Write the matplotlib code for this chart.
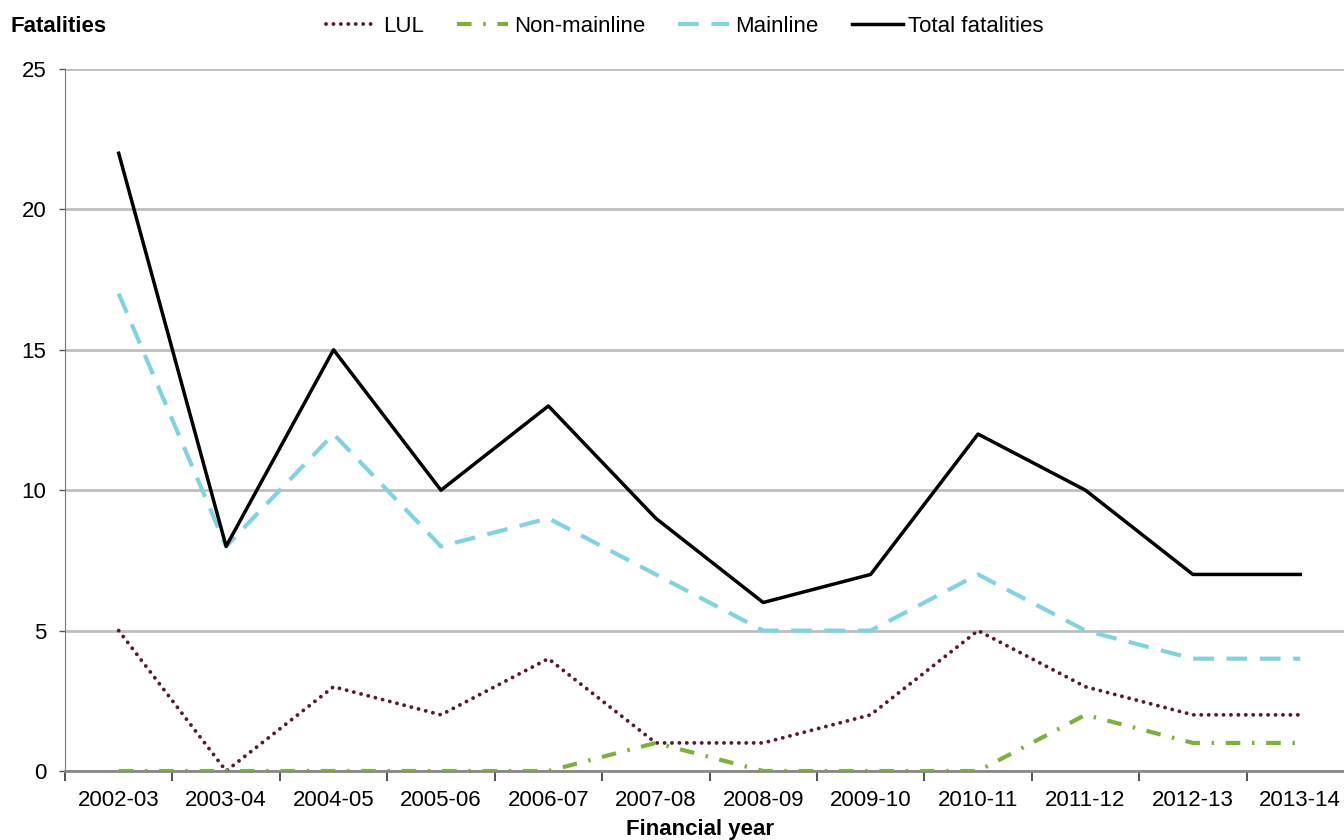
import matplotlib
matplotlib.use("Agg")
import matplotlib.pyplot as plt
import numpy as np

years = ["2002-03", "2003-04", "2004-05", "2005-06", "2006-07", "2007-08",
         "2008-09", "2009-10", "2010-11", "2011-12", "2012-13", "2013-14"]
lul = [5, 0, 3, 2, 4, 1, 1, 2, 5, 3, 2, 2]
non_mainline = [0, 0, 0, 0, 0, 1, 0, 0, 0, 2, 1, 1]
mainline = [17, 8, 12, 8, 9, 7, 5, 5, 7, 5, 4, 4]
total = [22, 8, 15, 10, 13, 9, 6, 7, 12, 10, 7, 7]

plt.rcParams['font.family'] = ['Liberation Sans', 'DejaVu Sans']

fig = plt.figure(figsize=(13.44, 8.4), dpi=100)
ax = fig.add_axes([65/1344, 1 - 771/840, (1354 - 65)/1344, (771 - 69)/840])

x = np.arange(len(years))
ax.plot(x, lul, color='#561c33', lw=2.8, linestyle=(0, (0.01, 1.9)), dash_capstyle='round',
        label='LUL', zorder=3)
ax.plot(x, non_mainline, color='#7db23a', lw=3, linestyle=(0, (3.5, 2.8, 0.6, 2.8)),
        label='Non-mainline', zorder=3)
ax.plot(x, mainline, color='#80d4df', lw=3, linestyle=(0, (5, 3)),
        label='Mainline', zorder=3)
ax.plot(x, total, color='black', lw=2.5, label='Total fatalities', zorder=4)

ax.set_xlim(-0.5, len(years) - 0.5)
ax.set_ylim(0, 25)
ax.set_yticks([0, 5, 10, 15, 20, 25])
ax.set_xticks(x)
ax.set_xticklabels(years)
ax.set_xticks(np.arange(-0.5, len(years) + 0.5, 1), minor=True)
ax.tick_params(axis='x', which='major', length=0, pad=14, labelsize=16)
ax.tick_params(axis='x', which='minor', length=7, width=1.2, color='#333333', direction='out')
ax.tick_params(axis='y', length=4.5, width=1, color='#555555', labelsize=16, pad=9)

ax.grid(axis='y', color='#bfbfbf', lw=2)
ax.set_axisbelow(True)
for s in ['top', 'right']:
    ax.spines[s].set_visible(False)
ax.spines['left'].set_color('#777777')
ax.spines['bottom'].set_color('#888888')
ax.spines['bottom'].set_linewidth(2)

fig.text(11/1344, 1 - 26/840, 'Fatalities', fontsize=16, fontweight='bold', va='center', ha='left')
fig.text(700/1344, 1 - 829/840, 'Financial year', fontsize=16, fontweight='bold', va='center', ha='center')

leg = fig.legend(loc='center', bbox_to_anchor=(685/1344, 1 - 26/840), ncol=4, frameon=False,
                 fontsize=16, handlelength=2.3, columnspacing=1.5, handletextpad=0.25)

fig.savefig('out.png', dpi=100)
